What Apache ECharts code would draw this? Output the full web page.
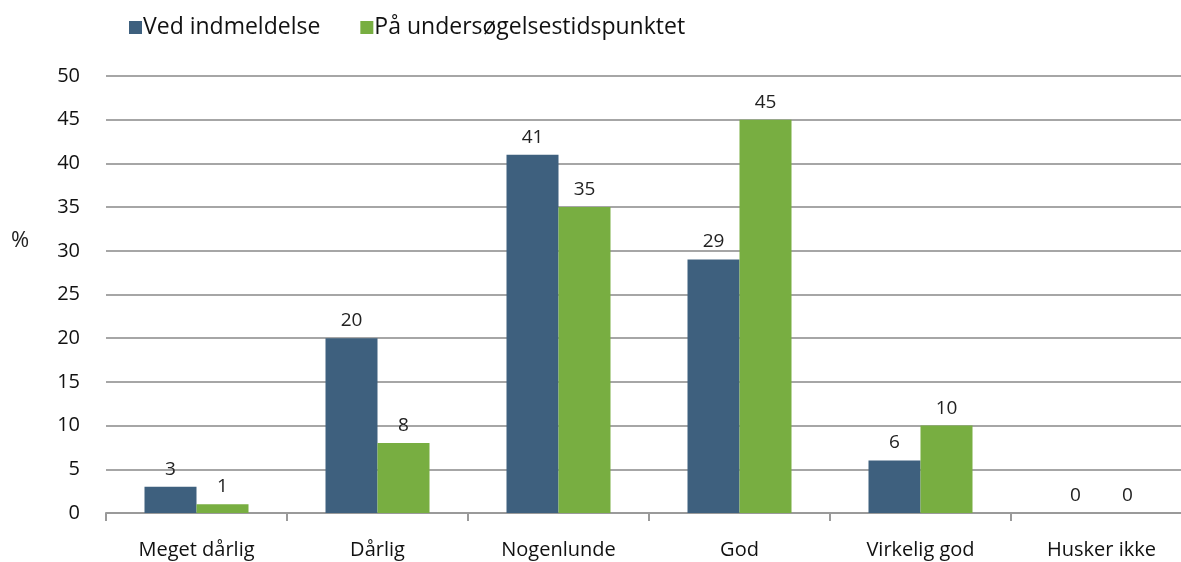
<!DOCTYPE html>
<html>
<head>
    <meta charset="utf-8">
    <title>Helbred</title>
    <script src="https://cdn.jsdelivr.net/npm/echarts@6/dist/echarts.min.js"></script>
</head>
<body style="margin:0">
    <div id="main" style="width: 1181px;height:562px;"></div>
    <script type="text/javascript">
        var categories = ['Meget dårlig', 'Dårlig', 'Nogenlunde', 'God', 'Virkelig god', 'Husker ikke'];
        var vedIndmeldelse = [3, 20, 41, 29, 6, 0];
        var undersoegelse = [1, 8, 35, 45, 10, 0];
        var yTicks = { min: 0, max: 50, interval: 5 };

        var font = "'Open Sans', 'Noto Sans', sans-serif";
        var myChart = echarts.init(document.getElementById('main'));

        var labelStyle = {
            show: true,
            position: 'top',
            distance: 8,
            color: '#222',
            fontSize: 19,
            fontFamily: font
        };

        var option = {
            animation: false,
            textStyle: { fontFamily: font },
            legend: {
                left: 124,
                top: 11,
                itemWidth: 13,
                itemHeight: 13,
                itemGap: 40,
                icon: 'rect',
                textStyle: { fontSize: 23, color: '#111', padding: [0, 0, 0, -4] },
                data: ['Ved indmeldelse', 'På undersøgelsestidspunktet']
            },
            graphic: [{
                type: 'text',
                left: 11,
                top: 230,
                style: { text: '%', fontSize: 22, fill: '#222', fontFamily: font }
            }],
            grid: { left: 106, right: -11, top: 76, bottom: 49, outerBoundsMode: 'none', containLabel: false },
            xAxis: {
                type: 'category',
                data: categories,
                axisLine: { lineStyle: { color: '#9a9a9a', width: 2 } },
                axisTick: { show: true, length: 8, lineStyle: { color: '#9a9a9a', width: 2 } },
                axisLabel: { fontSize: 20, color: '#111', margin: 27 }
            },
            yAxis: {
                type: 'value',
                min: yTicks.min,
                max: yTicks.max,
                interval: yTicks.interval,
                axisLine: { show: false },
                axisTick: { show: false },
                axisLabel: { fontSize: 20, color: '#111', margin: 26 },
                splitLine: { lineStyle: { color: '#a6a6a6', width: 2 } }
            },
            series: [{
                name: 'Ved indmeldelse',
                type: 'bar',
                data: vedIndmeldelse,
                barWidth: 52,
                barGap: '0%',
                itemStyle: { color: '#3e607e' },
                label: labelStyle
            }, {
                name: 'På undersøgelsestidspunktet',
                type: 'bar',
                data: undersoegelse,
                barWidth: 52,
                itemStyle: { color: '#78ae41' },
                label: labelStyle
            }]
        };

        myChart.setOption(option);
    </script>
</body>
</html>
